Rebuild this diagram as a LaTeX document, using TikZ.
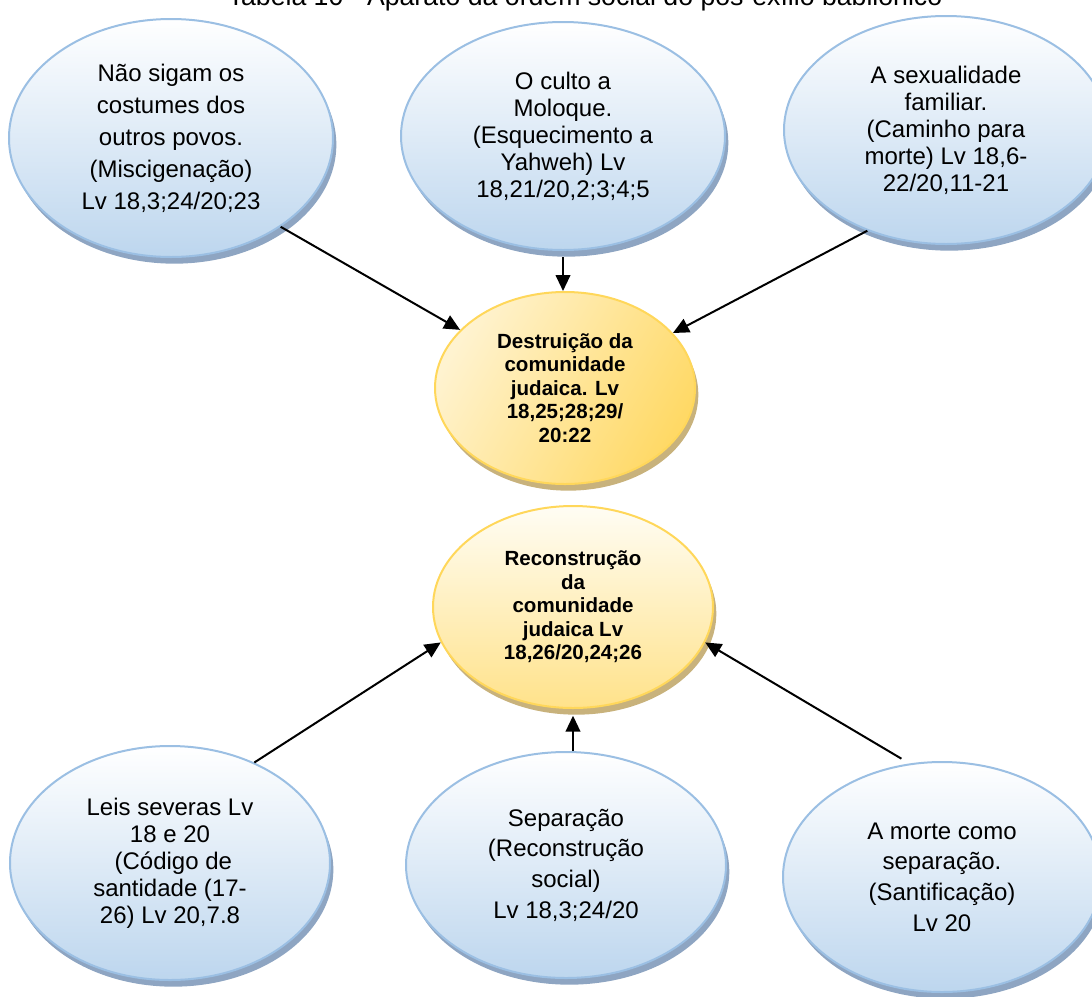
\documentclass[tikz,border=0pt]{standalone}
\usepackage{fontspec}
\setmainfont{Liberation Sans}
\usetikzlibrary{shapes.geometric,arrows.meta,shadows}
\definecolor{bline}{HTML}{9BBFE3}
\definecolor{bbot}{HTML}{BDD6EE}
\definecolor{bshad}{HTML}{8EA5C2}
\definecolor{yline}{HTML}{FFD75A}
\definecolor{ylight}{HTML}{FFF3D0}
\definecolor{ydeep}{HTML}{FFD966}
\definecolor{ytop}{HTML}{FFFDF4}
\definecolor{ybot}{HTML}{FFE28A}
\definecolor{yshad}{HTML}{C8B27C}
\begin{document}
\begin{tikzpicture}[x=0.75pt,y=-0.75pt,
  sz/.style 2 args={minimum width=#1*0.75pt, minimum height=#2*0.75pt},
  bub/.style={ellipse, inner sep=0pt, align=center, line width=1.5pt},
  bluebub/.style={bub, draw=bline, top color=white, bottom color=bbot,
    drop shadow={shadow xshift=2.5pt, shadow yshift=-5pt, fill=bshad, opacity=1}},
  yelbub/.style={bub, draw=yline,
    drop shadow={shadow xshift=2.5pt, shadow yshift=-5pt, fill=yshad, opacity=1}},
  txta/.style={font=\fontsize{18}{24}\selectfont},
  txtb/.style={font=\fontsize{18}{20.25}\selectfont},
  txtc/.style={font=\fontsize{18}{23}\selectfont},
  txtbold/.style={font=\fontsize{15.4}{17.6}\selectfont\bfseries},
  arr/.style={-{Triangle[length=12pt,width=11pt]}, line width=1.5pt, black}
]
\useasboundingbox (0,0) rectangle (1092,996);

\node[anchor=base, font=\fontsize{20}{24}\selectfont] (title) at (585,5)
  {Tabela 10 - Aparato da ordem social do pós-exílio babilônico};

\node[bluebub, sz={324}{238}, txta] (tl) at (171,138)
  {Não sigam os\\costumes dos\\outros povos.\\(Miscigenação)\\Lv 18,3;24/20;23};
\node[bluebub, sz={324}{228}, txtb] (tm) at (563,136)
  {O culto a\\Moloque.\\(Esquecimento a\\Yahweh) Lv\\18,21/20,2;3;4;5};
\node[bluebub, sz={324}{228}, txtb] (tr) at (946,130)
  {A sexualidade\\familiar.\\(Caminho para\\morte) Lv 18,6-\\22/20,11-21};

\node[yelbub, sz={260}{192}, left color=ylight, right color=ydeep, shading angle=60, txtbold] (dest) at (565,388)
  {Destruição da\\comunidade\\judaica. Lv\\18,25;28;29/\\20:22};
\node[yelbub, sz={280}{202}, top color=ytop, bottom color=ybot, txtbold] (rec) at (573,607)
  {Reconstrução\\da\\comunidade\\judaica Lv\\18,26/20,24;26};

\node[bluebub, sz={320}{234}, txtb] (bl) at (170,863)
  {Leis severas Lv\\18 e 20\\\hspace*{.28em}(Código de\\santidade (17-\\26) Lv 20,7.8};
\node[bluebub, sz={320}{226}, txtc] (bm) at (566,865)
  {Separação\\(Reconstrução\\social)\\Lv 18,3;24/20};
\node[bluebub, sz={318}{230}, txtc] (br) at (942,877)
  {A morte como\\separação.\\(Santificação)\\Lv 20};

\draw[arr] (tl.-39.4) -- (dest.151.8);
\draw[arr, shorten <=4.5pt] (tm.south) -- (tm.south |- dest.north);
\draw[arr] (tr.-128.6) -- (dest.27.4);
\draw[arr] (bl.50.8) -- (rec.195);
\draw[arr, shorten >=5pt] (bm.north -| rec.south) -- (rec.south);
\draw[arr, shorten <=7pt] (br.106.6) -- (rec.-15.2);
\end{tikzpicture}
\end{document}
